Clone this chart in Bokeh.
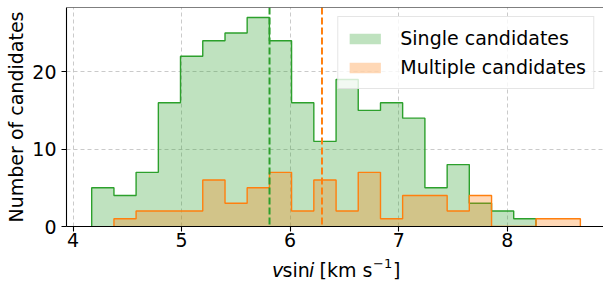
from bokeh.plotting import figure
from bokeh.layouts import column
from bokeh.models import Range1d, FixedTicker, Span, Legend, LegendItem
from bokeh.core.properties import value
from bokeh.embed import file_html
from bokeh.resources import INLINE

# ---- data ----
bin_edges = [4.172, 4.377, 4.581, 4.786, 4.990, 5.195, 5.400, 5.604, 5.809,
             6.013, 6.218, 6.423, 6.627, 6.832, 7.036, 7.241, 7.446, 7.650,
             7.855, 8.059, 8.264, 8.469, 8.673]
single_counts = [5, 4, 7, 16, 22, 24, 25, 27, 24, 16, 11, 19, 15, 16, 14, 5, 8, 3, 2, 1]
multiple_counts = [1, 2, 2, 2, 6, 3, 5, 7, 2, 6, 2, 7, 1, 4, 4, 2, 4, 0, 0, 1, 1]
single_edges = bin_edges[0:21]
multiple_edges = bin_edges[1:23]
single_median = 5.81
multiple_median = 6.293
x_ticks = [4, 5, 6, 7, 8]
y_ticks = [0, 10, 20]
series_labels = ["Single candidates", "Multiple candidates"]
y_title = "Number of candidates"

GREEN = "#2ca02c"
ORANGE = "#ff7f0e"
FONT = "DejaVu Sans"

X0, X1 = 3.94, 8.886
LEFT = 66
FRAME_W = 603 - LEFT


def step_path(edges, counts):
    xs = [edges[0]]
    ys = [0]
    for i, c in enumerate(counts):
        xs += [edges[i], edges[i + 1]]
        ys += [c, c]
    xs.append(edges[len(counts)])
    ys.append(0)
    return xs, ys


Y_END = 28.3
xr = Range1d(X0, X1)
p = figure(width=603, height=256, output_backend="svg", toolbar_location=None,
           x_range=xr, y_range=Range1d(0, Y_END),
           min_border_left=LEFT, min_border_right=0, min_border_top=7,
           min_border_bottom=30)
p.outline_line_color = None
p.background_fill_color = "white"
p.border_fill_color = "white"

for ax, ticks in ((p.xaxis, x_ticks), (p.yaxis, y_ticks)):
    ax.ticker = FixedTicker(ticks=ticks)
    ax.axis_line_color = "black"
    ax.axis_line_width = 1.1
    ax.major_tick_line_color = "black"
    ax.major_tick_line_width = 1.1
    ax.major_tick_out = 5
    ax.major_tick_in = 0
    ax.minor_tick_line_color = None
    ax.major_label_text_font = FONT
    ax.major_label_text_font_size = "19px"
    ax.major_label_text_color = "black"
p.xaxis.major_label_standoff = 1
p.yaxis.major_label_standoff = 5
p.yaxis.axis_label = y_title
p.yaxis.axis_label_text_font = FONT
p.yaxis.axis_label_text_font_size = "19px"
p.yaxis.axis_label_text_font_style = "normal"
p.yaxis.axis_label_text_color = "black"
p.yaxis.axis_label_standoff = 2

for g in (p.xgrid, p.ygrid):
    g.grid_line_color = "#b8b8b8"
    g.grid_line_alpha = 0.75
    g.grid_line_dash = "4 3"
    g.grid_line_width = 1

gx, gy = step_path(single_edges, single_counts)
ox, oy = step_path(multiple_edges, multiple_counts)

g_fill = p.patch(gx, gy, fill_color=GREEN, fill_alpha=0.3, line_color=None)
p.line(gx, gy, line_color=GREEN, line_width=1.4)
o_fill = p.patch(ox, oy, fill_color=ORANGE, fill_alpha=0.3, line_color=None)
p.line(ox, oy, line_color=ORANGE, line_width=1.4)

p.add_layout(Span(location=single_median, dimension="height", line_color=GREEN,
                  line_dash="7 3", line_width=2))
p.add_layout(Span(location=multiple_median, dimension="height", line_color=ORANGE,
                  line_dash="7 3", line_width=2))
p.add_layout(Span(location=Y_END, dimension="width", line_color="black", line_width=1.1))

legend = Legend(items=[LegendItem(label=series_labels[0], renderers=[g_fill]),
                       LegendItem(label=series_labels[1], renderers=[o_fill])],
                location="top_right", margin=9, padding=7, spacing=1,
                glyph_width=39, glyph_height=13, label_standoff=16, label_height=28,
                label_text_font=FONT, label_text_font_size="19px",
                label_text_color="black",
                border_line_color="#cccccc", border_line_width=1,
                background_fill_color="white", background_fill_alpha=0.8)
p.add_layout(legend)

# ---- x-axis title (mixed italic) drawn in a thin strip below, same frame ----
STRIP_H = 26
p2 = figure(width=603, height=STRIP_H, output_backend="svg", toolbar_location=None,
            x_range=xr, y_range=Range1d(0, STRIP_H),
            x_axis_type=None, y_axis_type=None,
            min_border_left=LEFT, min_border_right=0, min_border_top=0,
            min_border_bottom=0)
p2.outline_line_color = None
p2.background_fill_color = "white"
p2.border_fill_color = "white"


def px_to_x(px):
    return X0 + (px - LEFT) * (X1 - X0) / FRAME_W


def piece(text, px, y, size="19px", style="normal"):
    p2.text(x=[px_to_x(px)], y=[y], text=[text], text_font=value(FONT),
            text_font_size=value(size), text_font_style=style,
            text_color="black", text_baseline="alphabetic", text_align="left")


BASE = 13
piece("v", 271.5, BASE, style="italic")
piece("sin", 282.0, BASE)
piece("i", 308.5, BASE, style="italic")
piece("[km s", 319.0, BASE)
piece("\u22121", 372.5, BASE + 6, size="13px")
piece("]", 392.5, BASE)

layout = column(p, p2, spacing=0)
open("out.html", "w").write(file_html(layout, INLINE))
